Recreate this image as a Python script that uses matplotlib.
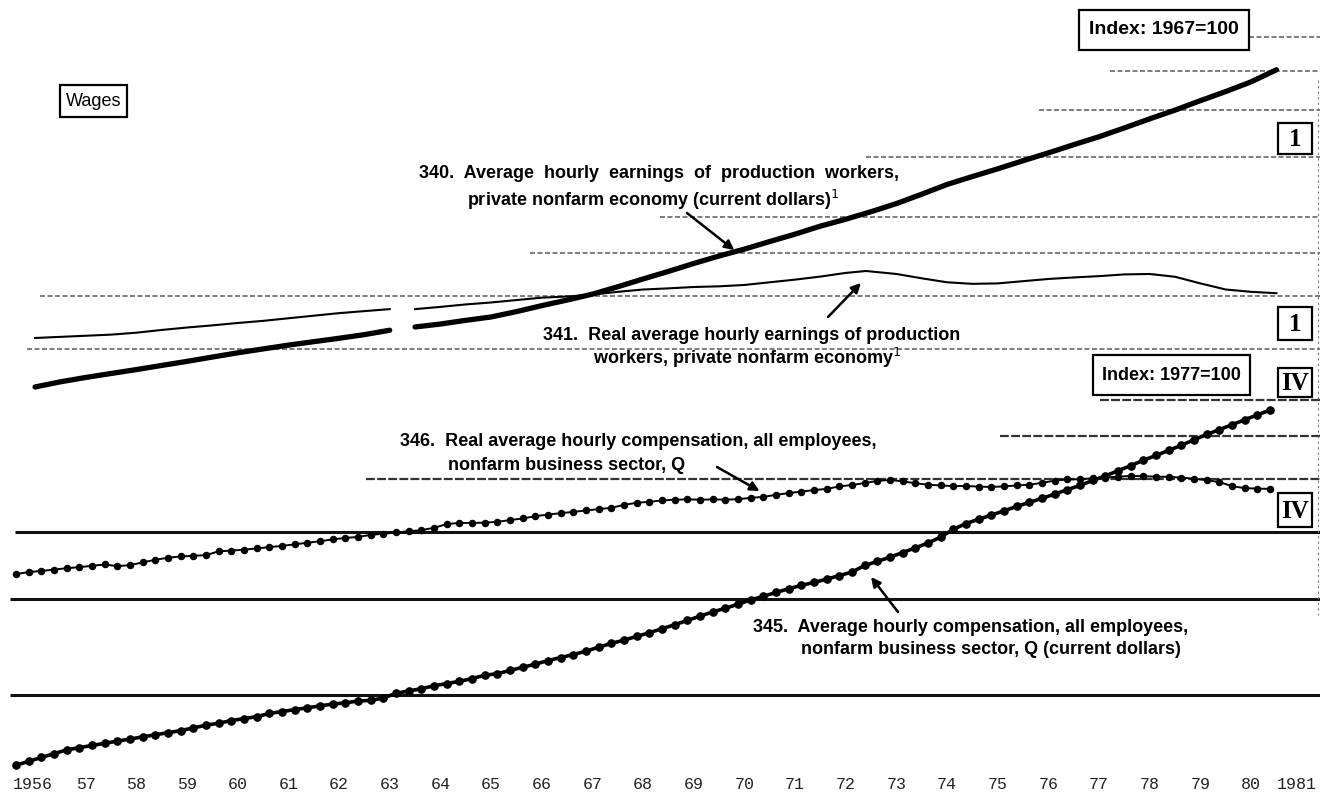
import matplotlib
matplotlib.use("Agg")
import matplotlib.pyplot as plt
from matplotlib.lines import Line2D
from matplotlib.patches import Rectangle
import numpy as np

# ---- data (index values) ----
# 340 / 341: index 1967=100, monthly series drawn at half-year readings, break in 1963-64
t340a = [1956.5, 1957.0, 1957.5, 1958.0, 1958.5, 1959.0, 1959.5, 1960.0, 1960.5,
         1961.0, 1961.5, 1962.0, 1962.5, 1963.0, 1963.5]
v340a = [68.0, 69.5, 70.8, 72.0, 73.2, 74.5, 75.8, 77.2, 78.6,
         79.9, 81.2, 82.4, 83.6, 84.9, 86.5]
t340b = [1964.0, 1964.5, 1965.0, 1965.5, 1966.0, 1966.5, 1967.0, 1967.5, 1968.0,
         1968.5, 1969.0, 1969.5, 1970.0, 1970.5, 1971.0, 1971.5, 1972.0, 1972.5,
         1973.0, 1973.5, 1974.0, 1974.5, 1975.0, 1975.5, 1976.0, 1976.5, 1977.0,
         1977.5, 1978.0, 1978.5, 1979.0, 1979.5, 1980.0, 1980.5, 1981.0]
v340b = [87.7, 88.8, 90.2, 91.5, 93.6, 96.0, 98.3, 100.8, 104.0,
         107.5, 111.0, 114.8, 118.5, 122.0, 126.0, 130.0, 134.5, 138.5,
         143.0, 148.0, 154.0, 160.5, 166.0, 171.5, 177.5, 183.5, 190.0,
         196.5, 204.0, 212.0, 220.0, 229.0, 238.0, 248.0, 261.0]

t341a = t340a
v341a = [83.7, 84.1, 84.5, 84.9, 85.6, 86.6, 87.5, 88.3, 89.2,
         90.0, 91.0, 92.0, 93.0, 93.8, 94.6]
t341b = [1964.0, 1964.5, 1965.0, 1965.5, 1966.0, 1966.5, 1967.0, 1967.5, 1968.0,
         1968.5, 1969.0, 1969.5, 1970.0, 1970.5, 1971.0, 1971.5, 1972.0, 1972.5,
         1972.9, 1973.5, 1974.0, 1974.5, 1975.0, 1975.5, 1976.0, 1976.5, 1977.0,
         1977.5, 1978.0, 1978.5, 1979.0, 1979.5, 1980.0, 1980.5, 1981.0]
v341b = [94.6, 95.5, 96.5, 97.3, 98.3, 99.3, 99.8, 100.6, 101.8,
         102.8, 103.3, 103.9, 104.2, 104.8, 106.0, 107.2, 108.6, 110.3,
         111.2, 109.8, 107.8, 106.0, 105.3, 105.5, 106.5, 107.5, 108.2,
         108.8, 109.6, 109.8, 108.5, 105.5, 102.8, 101.8, 101.2]

# 345 / 346: index 1977=100, quarterly 1956 Q1 - 1980 Q4
years_q = np.arange(1956, 1981)
v345 = [29.7, 30.2, 30.7, 31.2,  31.7, 32.0, 32.3, 32.6,  32.9, 33.2, 33.5, 33.8,
        34.1, 34.4, 34.8, 35.2,  35.5, 35.9, 36.2, 36.5,  37.0, 37.3, 37.6, 37.9,
        38.2, 38.5, 38.7, 39.0,  39.1, 39.5, 40.3, 40.7,  41.1, 41.6, 42.0, 42.4,
        42.9, 43.5, 43.8, 44.4,  45.0, 45.6, 46.3, 46.9,  47.5, 48.2, 49.0, 49.8,
        50.5, 51.3, 52.1, 53.0,  53.9, 54.9, 55.9, 56.9,  57.8, 58.8, 59.9, 60.8,
        61.8, 62.8, 63.7, 64.5,  65.4, 66.4, 67.4, 69.3,  70.5, 71.8, 73.2, 74.7,
        76.2, 78.2, 80.8, 82.8,  84.3, 85.8, 87.4, 89.0,  90.6, 92.1, 93.8, 95.6,
        97.3, 99.4, 101.3, 103.6,  105.8, 108.3, 110.5, 112.9,  115.4, 118.1, 120.8, 123.3,
        125.9, 128.6, 131.2, 134.0]
v346 = [66.8, 67.4, 67.7, 68.1,  68.5, 68.8, 69.2, 69.6,  69.1, 69.4, 70.2, 71.0,
        71.6, 72.0, 72.2, 72.4,  73.6, 73.8, 74.1, 74.5,  74.9, 75.3, 75.8, 76.3,
        76.8, 77.4, 77.9, 78.2,  78.9, 79.3, 79.7, 80.1,  80.5, 81.3, 82.6, 83.0,
        83.0, 83.1, 83.4, 84.0,  84.6, 85.4, 86.0, 86.5,  87.0, 87.5, 88.0, 88.5,
        89.6, 90.4, 90.8, 91.3,  91.6, 91.7, 91.6, 91.7,  91.6, 91.8, 92.3, 92.7,
        93.5, 94.2, 94.8, 95.4,  95.9, 96.9, 97.5, 98.3,  99.2, 99.6, 99.0, 98.2,
        97.6, 97.3, 97.0, 97.1,  96.8, 96.7, 96.9, 97.3,  97.6, 98.4, 99.3, 99.8,
        99.9, 100.3, 100.6, 101.0,  101.3, 101.2, 101.0, 100.9,  100.6, 100.1, 99.5, 98.7,
        97.0, 96.2, 96.0, 95.9]

label_years = np.arange(1956, 1982)
year_labels = ["1956"] + ["%02d" % (y % 100) for y in range(1957, 1981)] + ["1981"]

# grid levels and the year each ruled line starts from
top_grid = [80, 100, 120, 140, 180, 220, 260, 300]
top_grid_start = [1956.34, 1956.6, 1966.27, 1968.84, 1972.9, 1976.31, 1977.71, 1980.45]
bot_grid = [40, 60, 80, 100, 120, 140]
bot_grid_start = [1956.0, 1956.0, 1956.1, 1963.03, 1975.55, 1977.52]

W, H = 1320, 799
fig = plt.figure(figsize=(W / 100, H / 100), dpi=100)
fig.patch.set_facecolor("white")

XMIN, XMAX = 1955.809, 1981.86
ax_pos = [0, 29 / H, 1, 770 / H]

ax_top = fig.add_axes(ax_pos)
ax_bot = fig.add_axes(ax_pos)
for ax in (ax_top, ax_bot):
    ax.set_yscale("log")
    ax.set_xlim(XMIN, XMAX)
    ax.patch.set_visible(False)
    for s in ax.spines.values():
        s.set_visible(False)
    ax.set_yticks([])
    ax.minorticks_off()
    ax.tick_params(axis="y", which="both", left=False, labelleft=False)

ax_top.set_ylim(13.40, 350.9)
ax_bot.set_ylim(29.11, 762.4)

tick_pos = label_years + 0.5
tick_pos[0] = 1956.45
tick_pos[-1] = 1981.4
ax_top.set_xticks(tick_pos)
ax_top.set_xticklabels(year_labels, family=["Liberation Mono", "DejaVu Sans Mono"],
                       fontsize=12, color="#222")
ax_top.tick_params(axis="x", length=0, pad=5)
ax_bot.set_xticks([])

# ruled lines
for lev, st in zip(top_grid, top_grid_start):
    ax_top.hlines(lev, st, XMAX, color="#666", lw=1.2, linestyles=(0, (3, 1.5)), zorder=1)
for lev, st in zip(bot_grid, bot_grid_start):
    if lev <= 80:
        ax_bot.hlines(lev, st, XMAX, color="#111", lw=2.2, zorder=1)
    else:
        ax_bot.hlines(lev, st, XMAX, color="#333", lw=1.6, linestyles=(0, (4, 1)), zorder=1)

fig.add_artist(Line2D([1318 / W, 1318 / W], [1 - 80 / H, 1 - 615 / H], color="#777",
                      lw=0.8, ls=(0, (2, 3))))

# series
for t, v in ((t340a, v340a), (t340b, v340b)):
    ax_top.plot(t, v, color="black", lw=3.8, solid_capstyle="round", zorder=3)
for t, v in ((t341a, v341a), (t341b, v341b)):
    ax_top.plot(t, v, color="black", lw=1.5, zorder=3)

tq = np.repeat(years_q, 4) + np.tile([0.125, 0.375, 0.625, 0.875], len(years_q))
ax_bot.plot(tq, v345, color="black", lw=2.6, marker="o", ms=5.2, zorder=3)
ax_bot.plot(tq, v346, color="black", lw=1.4, marker="o", ms=4.4, zorder=3)

# labels
sans = ["Liberation Sans", "DejaVu Sans"]
lab_font = dict(family=sans, fontweight="bold", fontsize=13, color="black",
                va="center", ha="left")


def ftext(x, y, s, **kw):
    return fig.text(x / W, 1 - y / H, s, **kw)


def fbox(x0, y0, x1, y1):
    fig.add_artist(Rectangle((x0 / W, 1 - y1 / H), (x1 - x0) / W, (y1 - y0) / H,
                             transform=fig.transFigure, fc="white", ec="black", lw=1.6,
                             zorder=5))


ftext(419, 174, "340.  Average  hourly  earnings  of  production  workers,", **lab_font)
ftext(467, 200, "private nonfarm economy (current dollars)$^1$", **lab_font)
ftext(543, 336, "341.  Real average hourly earnings of production", **lab_font)
ftext(593, 358, "workers, private nonfarm economy$^1$", **lab_font)
ftext(400, 442, "346.  Real average hourly compensation, all employees,", **lab_font)
ftext(448, 465, "nonfarm business sector, Q", **lab_font)
ftext(753, 627, "345.  Average hourly compensation, all employees,", **lab_font)
ftext(801, 650, "nonfarm business sector, Q (current dollars)", **lab_font)

arrow = dict(arrowstyle="-|>", lw=1.8, color="black", mutation_scale=14, shrinkA=0, shrinkB=0)
ax_top.annotate("", xy=(1970.3, 121.5), xytext=(687, H - 213), textcoords="figure pixels",
                arrowprops=arrow)
ax_top.annotate("", xy=(1972.8, 105.7), xytext=(828, H - 317), textcoords="figure pixels",
                arrowprops=arrow)
ax_bot.annotate("", xy=(1970.8, 95.0), xytext=(717, H - 467), textcoords="figure pixels",
                arrowprops=arrow)
ax_bot.annotate("", xy=(1973.0, 66.0), xytext=(898, H - 612), textcoords="figure pixels",
                arrowprops=arrow)

# boxed notes
fbox(60, 85, 127, 117)
ftext(93.5, 101, "Wages", family=sans, fontsize=13, ha="center", va="center", zorder=6)
fbox(1079, 10, 1249, 50)
ftext(1164, 30, "Index: 1967=100", family=sans, fontsize=14, fontweight="bold",
      ha="center", va="center", zorder=6)
fbox(1093, 355, 1250, 395)
ftext(1171.5, 375, "Index: 1977=100", family=sans, fontsize=13, fontweight="bold",
      ha="center", va="center", zorder=6)
serif = ["Liberation Serif", "DejaVu Serif"]
for y0, y1, s in ((123, 154, "1"), (307, 340, "1"), (368, 397, "IV"), (493, 527, "IV")):
    fbox(1278, y0, 1312, y1)
    ftext(1295, (y0 + y1) / 2 + 1, s, family=serif, fontsize=18, fontweight="bold",
          ha="center", va="center", zorder=6)

fig.savefig("out.png", dpi=100, facecolor="white")
